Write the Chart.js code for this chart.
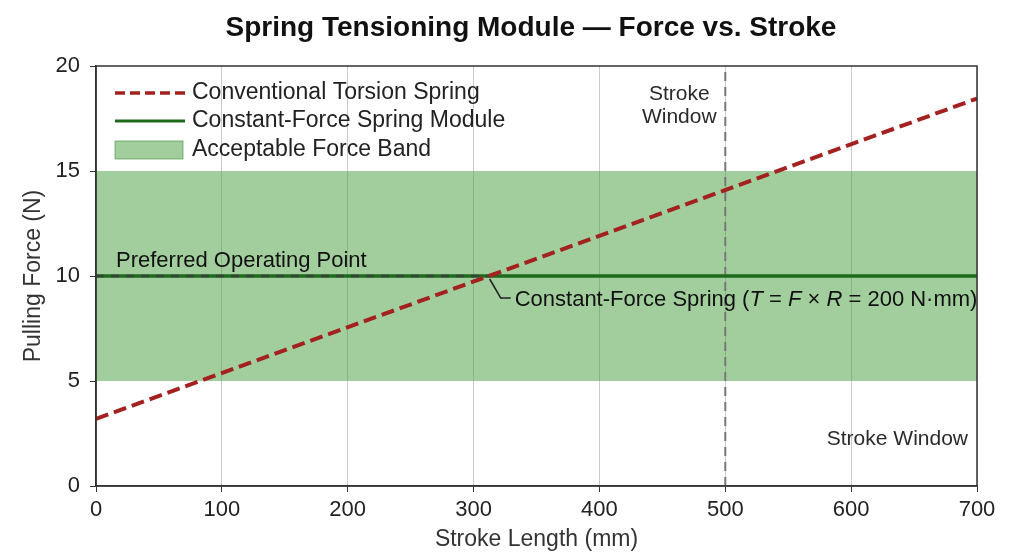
<!DOCTYPE html>
<html>
<head>
<meta charset="utf-8">
<script src="https://cdn.jsdelivr.net/npm/chart.js@4.4.0/dist/chart.umd.min.js"></script>
<style>
  html, body { margin: 0; padding: 0; background: #fff; }
  #wrap { width: 1024px; height: 559px; position: relative; }
</style>
</head>
<body>
<div id="wrap"><canvas id="chart"></canvas></div>
<script>
// Force vs. stroke data
const strokeMm = [0, 700];
const torsionForce = [3.2, 18.45];
const constantForce = [10, 10];
const bandUpper = [15, 15];
const bandLower = [5, 5];
const preferredStroke = [0, 312];
const preferredForce = [10, 10];
const windowStroke = [500, 500];
const windowForce = [0, 20];
const crossingPoint = [312, 10];
const xTicks = [0, 100, 200, 300, 400, 500, 600, 700];
const yTicks = [0, 5, 10, 15, 20];

const FONT = "'Liberation Sans', Arial, Helvetica, sans-serif";
const RED = "#a3221f";
const GREEN = "#1d6a1d";
const BAND = "rgba(70,158,60,0.5)";
const BAND_EDGE = "rgba(60,140,55,0.6)";

function pts(xs, ys) {
  return xs.map((x, i) => ({ x, y: ys[i] }));
}

// title, in-plot legend, frame and text notes
const decorations = {
  id: "decorations",
  afterDraw(chart) {
    const { ctx, chartArea: a, scales } = chart;
    const xs = scales.x, ys = scales.y;
    ctx.save();

    // frame on all four sides
    ctx.strokeStyle = "#333";
    ctx.lineWidth = 1.5;
    ctx.strokeRect(a.left, a.top, a.right - a.left, a.bottom - a.top);

    // title
    ctx.fillStyle = "#111";
    ctx.font = "bold 28px " + FONT;
    ctx.textAlign = "center";
    ctx.textBaseline = "middle";
    ctx.fillText("Spring Tensioning Module \u2014 Force vs. Stroke", 531, 28);

    // legend
    const lx = a.left + 19, lw = 70, tx = a.left + 96;
    ctx.textAlign = "left";
    ctx.lineWidth = 3.5;
    ctx.strokeStyle = RED;
    ctx.setLineDash([10, 5]);
    ctx.beginPath(); ctx.moveTo(lx, a.top + 27); ctx.lineTo(lx + lw, a.top + 27); ctx.stroke();
    ctx.setLineDash([]);
    ctx.strokeStyle = GREEN;
    ctx.lineWidth = 3;
    ctx.beginPath(); ctx.moveTo(lx, a.top + 55); ctx.lineTo(lx + lw, a.top + 55); ctx.stroke();
    ctx.fillStyle = BAND;
    ctx.fillRect(lx, a.top + 75, lw - 2, 18);
    ctx.strokeStyle = BAND_EDGE;
    ctx.lineWidth = 1;
    ctx.strokeRect(lx, a.top + 75, lw - 2, 18);
    ctx.fillStyle = "#222";
    ctx.font = "23px " + FONT;
    ctx.fillText("Conventional Torsion Spring", tx, a.top + 27);
    ctx.fillText("Constant-Force Spring Module", tx, a.top + 55);
    ctx.fillText("Acceptable Force Band", tx, a.top + 84);

    // stroke window labels
    const wx = xs.getPixelForValue(windowStroke[0]);
    ctx.fillStyle = "#2a2a2a";
    ctx.font = "21px " + FONT;
    ctx.textAlign = "center";
    ctx.fillText("Stroke", wx - 46, a.top + 28);
    ctx.fillText("Window", wx - 46, a.top + 51);
    ctx.textAlign = "right";
    ctx.fillText("Stroke Window", a.right - 9, ys.getPixelForValue(2.3) + 2);

    // preferred operating point
    ctx.fillStyle = "#111";
    ctx.font = "22px " + FONT;
    ctx.textAlign = "left";
    ctx.fillText("Preferred Operating Point", a.left + 20, ys.getPixelForValue(10) - 15);

    // leader line + constant-force note
    const cx = xs.getPixelForValue(crossingPoint[0]);
    const cy = ys.getPixelForValue(crossingPoint[1]);
    ctx.strokeStyle = "#222";
    ctx.lineWidth = 1.5;
    ctx.beginPath();
    ctx.moveTo(cx + 1, cy + 3);
    ctx.lineTo(cx + 12, cy + 22);
    ctx.lineTo(cx + 22, cy + 22);
    ctx.stroke();

    const parts = [
      ["Constant-Force Spring (", false], ["T", true], [" = ", false], ["F", true],
      [" \u00d7 ", false], ["R", true], [" = 200 N\u00b7mm)", false]
    ];
    let px = cx + 26;
    const py = cy + 24;
    ctx.textAlign = "left";
    parts.forEach(([t, it]) => {
      ctx.font = (it ? "italic " : "") + "22px " + FONT;
      ctx.fillText(t, px, py);
      px += ctx.measureText(t).width;
    });

    ctx.restore();
  }
};

new Chart(document.getElementById("chart"), {
  type: "line",
  data: {
    datasets: [
      {
        label: "Band upper",
        data: pts(strokeMm, bandUpper),
        borderColor: "rgba(0,0,0,0)",
        borderWidth: 0,
        backgroundColor: BAND,
        fill: "+1",
        pointRadius: 0,
        order: 5,
      },
      {
        label: "Band lower",
        data: pts(strokeMm, bandLower),
        borderColor: "rgba(0,0,0,0)",
        borderWidth: 0,
        fill: false,
        pointRadius: 0,
        order: 5,
      },
      {
        label: "Stroke Window",
        data: pts(windowStroke, windowForce),
        borderColor: "#777",
        borderWidth: 2,
        borderDash: [9, 6],
        fill: false,
        pointRadius: 0,
        order: 4,
      },
      {
        label: "Constant-Force Spring Module",
        data: pts(strokeMm, constantForce),
        borderColor: GREEN,
        borderWidth: 3.5,
        fill: false,
        pointRadius: 0,
        order: 3,
      },
      {
        label: "Preferred Operating Point",
        data: pts(preferredStroke, preferredForce),
        borderColor: "rgba(60,60,60,0.85)",
        borderWidth: 2.5,
        borderDash: [8, 7],
        fill: false,
        pointRadius: 0,
        order: 2,
      },
      {
        label: "Conventional Torsion Spring",
        data: pts(strokeMm, torsionForce),
        borderColor: RED,
        borderWidth: 4,
        borderDash: [13, 6],
        fill: false,
        pointRadius: 0,
        order: 1,
      },
    ],
  },
  options: {
    responsive: true,
    maintainAspectRatio: false,
    animation: false,
    layout: { padding: { top: 66, right: 47, left: 0, bottom: 0 } },
    plugins: {
      legend: { display: false },
      title: { display: false },
      tooltip: { enabled: false },
    },
    scales: {
      x: {
        type: "linear",
        min: 0,
        max: 700,
        z: 1,
        afterBuildTicks: (s) => { s.ticks = xTicks.map((v) => ({ value: v })); },
        afterFit: (s) => { s.height = 73; },
        grid: {
          color: "rgba(70,70,70,0.28)",
          lineWidth: 1,
          tickColor: "#333",
          tickLength: 6,
        },
        border: { color: "#333", width: 1.5 },
        ticks: { color: "#222", font: { family: FONT, size: 22 }, padding: 5 },
        title: {
          display: true,
          text: "Stroke Length (mm)",
          color: "#333",
          font: { family: FONT, size: 23 },
          padding: { top: 0, bottom: 6 },
        },
      },
      y: {
        type: "linear",
        min: 0,
        max: 20,
        afterBuildTicks: (s) => { s.ticks = yTicks.map((v) => ({ value: v })); },
        afterFit: (s) => { s.width = 96; },
        grid: {
          drawOnChartArea: false,
          tickColor: "#333",
          tickLength: 6,
        },
        border: { color: "#333", width: 1.5 },
        ticks: { color: "#222", font: { family: FONT, size: 22 }, padding: 10 },
        title: {
          display: true,
          text: "Pulling Force (N)",
          color: "#333",
          font: { family: FONT, size: 23 },
          padding: { top: 20, bottom: 0 },
        },
      },
    },
  },
  plugins: [decorations],
});
</script>
</body>
</html>
